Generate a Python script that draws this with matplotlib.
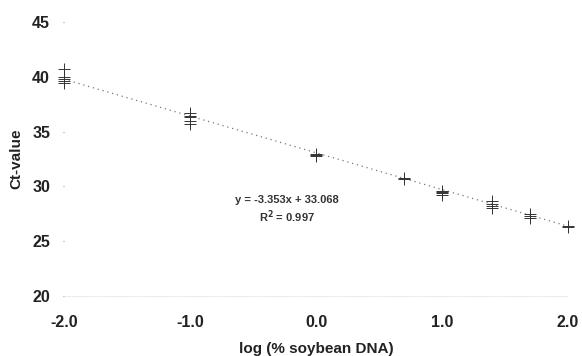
import numpy as np
import matplotlib.pyplot as plt

plt.rcParams['font.family'] = ['Liberation Sans', 'DejaVu Sans']

# replicate Ct values at each log concentration
x_levels = [-2.0, -1.0, 0.0, 0.7, 1.0, 1.4, 1.7, 2.0]
ct_values = [
    [40.7, 40.0, 39.8, 39.6, 39.4],
    [36.7, 36.4, 36.3, 36.0, 35.7],
    [33.0, 32.9, 32.8],
    [30.8, 30.7],
    [29.6, 29.5, 29.4, 29.2],
    [28.7, 28.4, 28.2, 28.0],
    [27.5, 27.3, 27.1],
    [26.4, 26.3],
]
slope = -3.353
intercept = 33.068
r2 = 0.997
xticks = [-2.0, -1.0, 0.0, 1.0, 2.0]
yticks = [20, 25, 30, 35, 40, 45]

fig = plt.figure(figsize=(5.82, 3.56), dpi=100)
ax = fig.add_axes([64/582, 60/356, 504/582, 274/356])

xs = []
ys = []
for xv, vals in zip(x_levels, ct_values):
    xs += [xv] * len(vals)
    ys += vals
ax.plot(xs, ys, linestyle='none', marker='+', markersize=9, mew=0.7,
        color='#333333', clip_on=False, zorder=3)

# regression line
fx = np.array([x_levels[0], x_levels[-1]])
ax.plot(fx, slope * fx + intercept, linestyle=(0, (1, 3)), color='#777777',
        linewidth=0.9, clip_on=False)

ax.text(-0.23, 28.8, 'y = -3.353x + 33.068', ha='center', va='center',
        fontsize=8, color='#333333', fontweight='bold')
ax.text(-0.23, 27.2, 'R$^\\mathbf{2}$ = %.3f' % r2, ha='center', va='center',
        fontsize=8, color='#333333', fontweight='bold')

ax.set_xlim(-2.0, 2.0)
ax.set_ylim(20, 45)
ax.set_xticks(xticks)
ax.set_xticklabels(['%.1f' % t for t in xticks])
ax.set_yticks(yticks)

for s in ['top', 'right', 'left']:
    ax.spines[s].set_visible(False)
ax.spines['bottom'].set_color('#dddddd')
ax.spines['bottom'].set_linestyle((0, (1, 2)))
ax.spines['bottom'].set_linewidth(0.6)

ax.tick_params(axis='y', length=1, width=0.8, color='#999999', pad=9,
               labelsize=11.5, labelcolor='#222222')
ax.tick_params(axis='x', length=0, pad=14, labelsize=11.5, labelcolor='#222222')
for lb in ax.get_xticklabels() + ax.get_yticklabels():
    lb.set_fontweight('bold')

ax.set_xlabel('log (% soybean DNA)', fontsize=11, color='#222222',
              fontweight='bold', labelpad=8)
ax.set_ylabel('Ct-value', fontsize=11, color='#222222',
              fontweight='bold', labelpad=6)

fig.savefig('out.png', dpi=100)
